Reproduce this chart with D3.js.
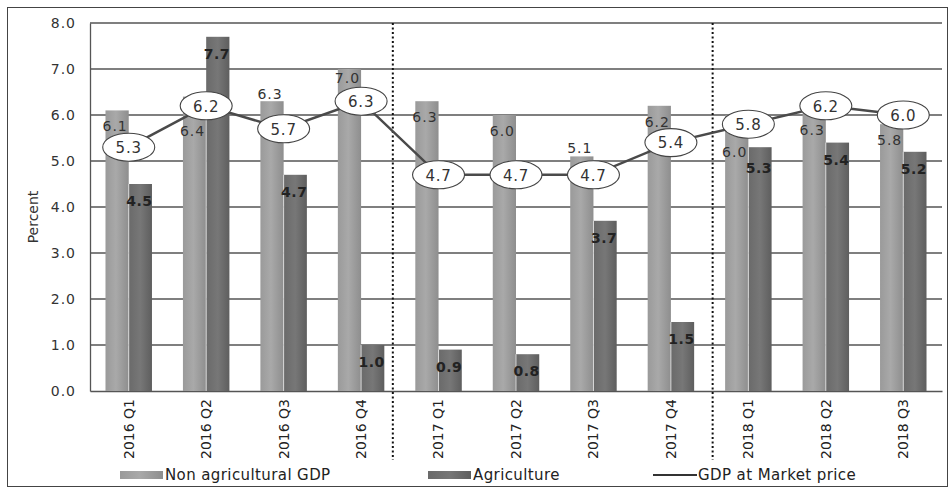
<!DOCTYPE html>
<html>
<head>
<meta charset="utf-8">
<script src="https://cdn.jsdelivr.net/npm/d3@7"></script>
<style>
  html, body { margin: 0; padding: 0; background: #fff; }
  svg { display: block; }
  text { font-family: "DejaVu Sans", Verdana, sans-serif; }
</style>
</head>
<body>
<svg id="chart" width="952" height="489"></svg>
<script>
// Quarterly real growth, percent
const quarters = ["2016 Q1", "2016 Q2", "2016 Q3", "2016 Q4", "2017 Q1", "2017 Q2",
                  "2017 Q3", "2017 Q4", "2018 Q1", "2018 Q2", "2018 Q3"];
const nonAgricultural = [6.1, 6.4, 6.3, 7.0, 6.3, 6.0, 5.1, 6.2, 6.0, 6.3, 5.8];
const agriculture     = [4.5, 7.7, 4.7, 1.0, 0.9, 0.8, 3.7, 1.5, 5.3, 5.4, 5.2];
const gdpMarketPrice  = [5.3, 6.2, 5.7, 6.3, 4.7, 4.7, 4.7, 5.4, 5.8, 6.2, 6.0];
const yTicks = [0, 1, 2, 3, 4, 5, 6, 7, 8];
const yearBreaks = ["2017 Q1", "2018 Q1"];
const seriesNames = ["Non agricultural GDP", "Agriculture", "GDP at Market price"];

const svg = d3.select("#chart");
const plot = { left: 90, right: 942, top: 23, bottom: 391 };

const x = d3.scaleBand().domain(quarters).range([plot.left, plot.right]);
const y = d3.scaleLinear().domain([0, 8]).range([plot.bottom, plot.top]);
const barW = x.bandwidth() * 0.3;
const cx = q => x(q) + x.bandwidth() / 2;

// gradients for the two bar series
const defs = svg.append("defs");
function grad(id, stops) {
  const g = defs.append("linearGradient").attr("id", id)
    .attr("x1", "0%").attr("x2", "100%").attr("y1", "0%").attr("y2", "0%");
  stops.forEach(([o, c]) => g.append("stop").attr("offset", o).attr("stop-color", c));
}
grad("gLight", [["0%", "#9a9a9a"], ["45%", "#a9a9a9"], ["100%", "#8e8e8e"]]);
grad("gDark",  [["0%", "#6a6a6a"], ["50%", "#777777"], ["100%", "#5e5e5e"]]);

// outer frame
svg.append("rect").attr("x", 7.5).attr("y", 7.5).attr("width", 940).attr("height", 479)
  .attr("fill", "none").attr("stroke", "#444").attr("stroke-width", 1);

// gridlines
svg.append("g").selectAll("line").data(yTicks.filter(d => d > 0)).join("line")
  .attr("x1", plot.left).attr("x2", plot.right)
  .attr("y1", d => y(d)).attr("y2", d => y(d))
  .attr("stroke", "#555").attr("stroke-width", 1.3);

// y axis
const yAxis = svg.append("g").attr("transform", `translate(${plot.left},0)`)
  .call(d3.axisLeft(y).tickValues(yTicks).tickFormat(d3.format(".1f")).tickSize(0).tickPadding(14));
yAxis.select(".domain").attr("stroke", "#555").attr("stroke-width", 1.3);
yAxis.selectAll("text").attr("font-size", 14).attr("fill", "#333")
  .attr("letter-spacing", "1px");

// x axis
const xAxis = svg.append("g").attr("transform", `translate(0,${plot.bottom})`)
  .call(d3.axisBottom(x).tickSize(0).tickPadding(0));
xAxis.select(".domain").attr("stroke", "#555").attr("stroke-width", 1.3);
xAxis.selectAll("text")
  .attr("font-size", 14).attr("fill", "#222")
  .attr("text-anchor", "end")
  .attr("transform", "rotate(-90)")
  .attr("x", -8).attr("y", 0).attr("dy", "0.35em");

// axis title
svg.append("text")
  .attr("transform", `translate(33,${(plot.top + plot.bottom) / 2 + 10}) rotate(-90)`)
  .attr("text-anchor", "middle").attr("dy", "0.35em")
  .attr("font-family", "'Liberation Sans Narrow', 'Arial Narrow', sans-serif")
  .attr("font-size", 14).attr("fill", "#333").text("Percent");

// bars
const bars = svg.append("g");
bars.selectAll("rect.light").data(quarters).join("rect").attr("class", "light")
  .attr("x", q => cx(q) - barW).attr("width", barW)
  .attr("y", (q, i) => y(nonAgricultural[i]))
  .attr("height", (q, i) => y(0) - y(nonAgricultural[i]))
  .attr("fill", "url(#gLight)");
bars.selectAll("rect.dark").data(quarters).join("rect").attr("class", "dark")
  .attr("x", q => cx(q)).attr("width", barW)
  .attr("y", (q, i) => y(agriculture[i]))
  .attr("height", (q, i) => y(0) - y(agriculture[i]))
  .attr("fill", "url(#gDark)");
bars.selectAll("line.sep").data(quarters).join("line").attr("class", "sep")
  .attr("x1", q => cx(q)).attr("x2", q => cx(q))
  .attr("y1", (q, i) => y(Math.min(nonAgricultural[i], agriculture[i])))
  .attr("y2", y(0)).attr("stroke", "#e8e8e8").attr("stroke-width", 0.8);

// dotted year separators
const breakShift = [-7, 3];
svg.append("g").selectAll("line").data(yearBreaks).join("line")
  .attr("x1", (q, i) => x(q) + breakShift[i]).attr("x2", (q, i) => x(q) + breakShift[i])
  .attr("y1", plot.top).attr("y2", 460)
  .attr("stroke", "#111").attr("stroke-width", 2).attr("stroke-dasharray", "2,2.5");

// value labels on bars (vertical nudges keep them clear of the line badges)
const lightNudge = { 1: 34, 2: -7, 3: 9, 6: -8, 8: 37, 9: 29 };
svg.append("g").selectAll("text").data(quarters).join("text")
  .attr("x", q => cx(q) - barW / 2 - 2)
  .attr("y", (q, i) => y(nonAgricultural[i]) + (lightNudge[i] !== undefined ? lightNudge[i] : 16))
  .attr("dy", "0.35em").attr("text-anchor", "middle")
  .attr("font-size", 14).attr("fill", "#333").attr("letter-spacing", "1px")
  .text((q, i) => nonAgricultural[i].toFixed(1));

svg.append("g").selectAll("text").data(quarters).join("text")
  .attr("x", q => cx(q) + barW / 2 - 1)
  .attr("y", (q, i) => y(agriculture[i]) + (i === 8 ? 21 : 17))
  .attr("dy", "0.35em").attr("text-anchor", "middle")
  .attr("font-size", 14).attr("font-weight", "bold").attr("fill", "#222")
  .attr("letter-spacing", "0.5px")
  .text((q, i) => agriculture[i].toFixed(1));

// GDP line with oval badges
const line = d3.line().x(d => cx(d.q)).y(d => y(d.v));
const pts = quarters.map((q, i) => ({ q, v: gdpMarketPrice[i] }));
svg.append("path").datum(pts).attr("d", line)
  .attr("fill", "none").attr("stroke", "#4a4a4a").attr("stroke-width", 2.5);
const badge = svg.append("g").selectAll("g").data(pts).join("g")
  .attr("transform", d => `translate(${cx(d.q)},${y(d.v)})`);
badge.append("ellipse").attr("rx", 26).attr("ry", 14)
  .attr("fill", "#fff").attr("stroke", "#444").attr("stroke-width", 1.1);
badge.append("text").attr("text-anchor", "middle").attr("dy", "0.38em")
  .attr("font-size", 15).attr("fill", "#333").attr("letter-spacing", "0.8px")
  .text(d => d.v.toFixed(1));

// legend
const lg = svg.append("g").attr("font-size", 15).attr("fill", "#222")
  .attr("letter-spacing", "0.4px");
const ly = 475;
lg.append("rect").attr("x", 120).attr("y", ly - 4).attr("width", 43).attr("height", 8).attr("fill", "url(#gLight)");
lg.append("text").attr("x", 165).attr("y", ly).attr("dy", "0.35em").text(seriesNames[0]);
lg.append("rect").attr("x", 428).attr("y", ly - 4).attr("width", 43).attr("height", 8).attr("fill", "url(#gDark)");
lg.append("text").attr("x", 473).attr("y", ly).attr("dy", "0.35em").text(seriesNames[1]);
lg.append("line").attr("x1", 653).attr("x2", 697).attr("y1", ly).attr("y2", ly)
  .attr("stroke", "#333").attr("stroke-width", 2);
lg.append("text").attr("x", 698).attr("y", ly).attr("dy", "0.35em").text(seriesNames[2]);
</script>
</body>
</html>
